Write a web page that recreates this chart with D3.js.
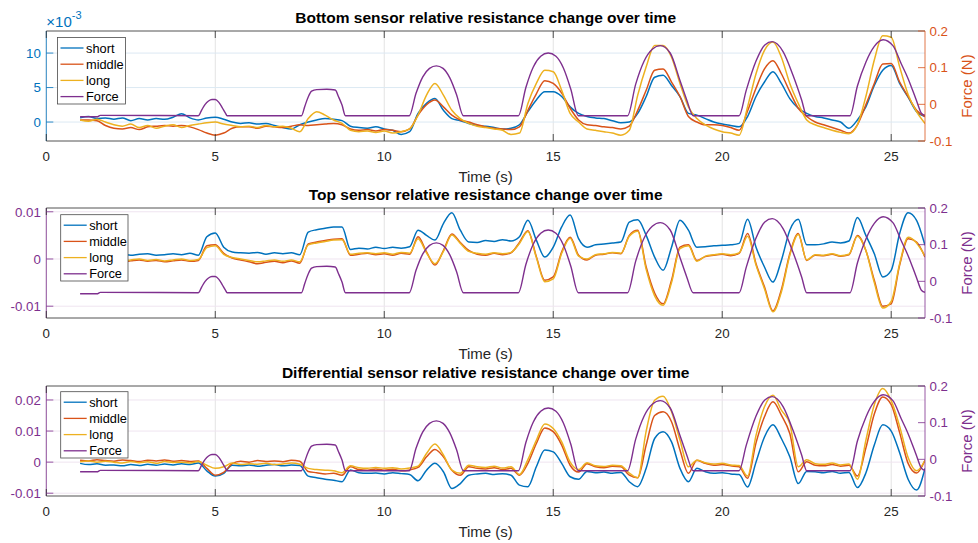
<!DOCTYPE html>
<html><head><meta charset="utf-8">
<script src="https://cdn.jsdelivr.net/npm/d3@7"></script>
<style>
body{margin:0;background:#fff}
svg{display:block}
text{font-family:"Liberation Sans",Arial,Helvetica,sans-serif}
</style>
</head><body>
<svg id="c" width="978" height="543"></svg>
<script>
// ---------------- DATA ----------------
// Sensor series sampled every 0.25 s from t = 1.0 s to t = 26.0 s (101 samples).
// Values in units of 1e-3 (relative resistance change).
const sampleStart = 1.0;
const sampleStep = 0.25;

const seriesNames = ["short", "middle", "long", "Force"];
const titles = [
  "Bottom sensor relative resistance change over time",
  "Top sensor relative resistance change over time",
  "Differential sensor relative resistance change over time"
];
const xTickValues = [0, 5, 10, 15, 20, 25];
const forceTickValues = [-0.1, 0, 0.1, 0.2];
const bottomTickValues = [0, 5, 10];          // x 1e-3
const topTickValues = [-10, 0, 10];           // x 1e-3
const diffTickValues = [-10, 0, 10, 20];      // x 1e-3

const bottomShort = [
0.6,0.8,0.5,0.6, 0.4,0.6,0.2,0.5, 0.3,0.5,0.4,0.7, 1.2,0.6,0.3,0.6,
0.7,0.4,0.0,-0.2, -0.1,-0.3,-0.2,-0.5, -0.8,-1.0,-0.4,0.0, 0.3,0.5,0.4,0.2,
-0.6,-0.8,-0.9,-0.7, -1.0,-1.2,-1.8,-1.4, 1.25,2.7,3.4,1.7, 0.5,0.2,-0.2,-0.5,
-0.6,-0.8,-1.0,-0.9, -0.4,1.5,3.2,4.4, 4.4,3.7,2.2,1.25, 0.8,0.6,0.5,0.2,
-0.1,0.0,1.25,3.7, 6.5,6.8,5.3,3.7, 1.25,1.0,0.5,0.0, -0.3,-0.5,-0.7,0.8,
3.7,5.8,7.3,5.6, 3.4,2.0,1.25,0.8, 0.6,0.3,0.0,-0.9, 0.3,2.2,5.3,7.5,
8.2,5.6,3.6,1.5, 0.8];
const bottomMiddle = [
0.3,0.3,0.2,-0.5, -0.9,-1.0,-0.8,-1.1, -0.7,-0.6,-0.5,-0.6, -0.5,-0.7,-1.1,-1.6,
-1.9,-1.6,-0.9,-0.7, -0.7,-0.9,-0.6,-0.7, -0.8,-0.6,-0.4,-0.5, -0.4,-0.3,-0.2,-0.4,
-1.0,-1.2,-1.1,-1.3, -1.1,-1.2,-1.4,-1.0, 1.0,2.5,3.2,2.2, 1.0,0.3,0.0,-0.4,
-0.7,-0.9,-1.0,-1.1, -0.7,1.7,4.1,6.0, 5.6,4.2,2.0,0.3, -0.4,-0.5,-0.7,-0.8,
-1.0,-0.6,1.7,4.6, 7.5,7.7,5.8,3.7, 0.8,0.0,-0.4,-0.4, -0.5,-0.8,-1.2,1.6,
4.9,7.7,8.9,7.0, 4.4,2.0,0.8,0.0, -0.4,-0.8,-1.2,-1.6, -0.4,2.5,5.6,8.4,
8.5,5.8,3.7,1.7, 0.8];
const bottomLong = [
0.3,0.1,0.4,0.0, -0.4,-0.6,-0.3,-0.8, -0.5,-0.9,-0.6,-0.4, -0.8,-0.5,-0.3,-0.1,
0.0,-0.3,-0.5,-0.7, -0.6,-0.8,-0.5,-0.7, -0.6,-0.9,-1.4,0.5, 1.5,1.0,0.3,-0.2,
-1.2,-1.4,-1.3,-1.5, -1.3,-1.6,-1.4,-1.0, 1.0,3.9,5.6,3.9, 1.7,0.5,-0.2,-0.6,
-0.8,-1.0,-1.2,-1.8, -1.6,2.7,5.6,7.5, 7.3,4.6,1.25,0.0, -1.0,-1.2,-1.4,-1.6,
-1.9,-1.2,3.9,8.0, 11.1,11.1,9.4,5.6, 2.2,0.5,-0.4,-1.0, -1.4,-1.6,-1.9,2.2,
7.0,10.4,11.6,9.4, 5.6,2.7,0.3,-0.4, -0.8,-1.2,-1.5,-1.7, -0.4,3.7,9.0,12.5,
12.3,8.0,4.0,1.5, -0.2];

const topShort = [
0.6,0.8,0.5,0.9, 0.7,1.0,0.8,1.0, 1.1,0.8,0.9,1.1, 0.9,1.2,0.8,4.7,
5.5,2.5,1.5,1.3, 1.2,1.4,1.0,1.3, 1.1,1.3,0.9,5.7, 6.2,6.5,6.8,6.8,
2.0,2.3,2.1,2.5, 2.2,2.5,2.3,2.6, 6.1,5.0,4.0,7.5, 9.8,6.1,3.6,3.5,
3.9,3.7,4.1,3.8, 4.7,8.2,4.0,0.4, 2.5,6.8,9.3,4.3, 2.5,3.0,3.2,3.4,
3.6,7.8,8.3,5.0, 0.4,-2.4,2.5,8.2, 6.1,2.5,2.6,2.8, 2.9,3.0,3.3,8.4,
2.5,-1.7,-4.9,-0.3, 6.1,8.4,3.0,3.0, 3.2,3.6,3.4,3.8, 8.8,5.0,1.1,-3.8,
-2.4,5.4,9.8,8.2, 2.9];
const topMiddle = [
-0.2,-0.4,-0.1,-0.5, -0.3,-0.6,-0.4,-0.2, -0.5,-0.3,-0.6,-0.4, -0.2,-0.5,-0.3,2.8,
3.0,1.2,0.2,-0.2, -0.6,-1.0,-0.7,-0.5, -0.8,-0.4,-0.9,3.2, 3.6,3.9,4.2,4.3,
0.8,1.0,1.2,0.9, 1.1,0.8,1.2,1.0, 4.7,1.5,-1.3,1.8, 5.3,3.5,1.8,1.0,
0.8,1.2,0.9,1.3, 3.5,6.0,0.5,-4.5, -3.8,1.5,4.6,0.8, -0.2,0.8,1.0,1.3,
1.1,5.0,6.1,-1.7, -7.2,-9.5,-4.5,2.5, 3.0,-0.3,0.5,0.8, 1.0,0.7,1.2,5.4,
-1.0,-5.9,-11.0,-6.5, 1.1,5.4,-0.3,0.8, 0.7,1.0,0.6,0.9, 5.0,1.8,-4.5,-10.0,
-9.5,-1.3,4.3,3.6, 0.4];
const topLong = [
0.0,-0.2,0.1,-0.3, -0.1,-0.4,-0.2,0.0, -0.3,-0.1,-0.4,-0.2, 0.0,-0.3,-0.1,2.4,
2.8,1.0,0.3,0.0, -0.3,-0.6,-0.4,-0.2, -0.5,-0.2,-0.6,3.0, 3.4,3.7,4.0,4.1,
1.0,1.2,1.3,1.1, 1.3,1.0,1.4,1.2, 4.3,1.3,-1.0,1.6, 5.1,3.3,1.6,1.2,
1.0,1.3,1.1,1.4, 3.3,5.8,0.3,-4.8, -4.2,1.2,4.4,0.6, 0.0,0.9,1.1,1.4,
1.2,4.8,5.9,-2.2, -7.8,-9.8,-5.0,2.2, 2.8,-0.5,0.6,0.9, 1.1,0.9,1.3,4.8,
-1.3,-6.3,-11.2,-7.0, 0.8,5.2,-0.2,0.9, 0.8,1.1,0.7,1.0, 4.8,1.8,-5.0,-10.4,
-9.0,-1.0,4.6,3.4, 0.6];

const diffShort = [
-0.4,-0.8,-0.5,-1.0, -0.9,-1.2,-0.8,-1.1, -0.7,-1.0,-0.6,-0.9, -0.5,-0.8,-0.3,-2.8,
-4.5,-3.6,-1.0,-1.2, -0.9,-1.3,-1.0,-0.8, -1.2,-0.9,-1.1,-4.5, -5.0,-5.5,-5.8,-6.3,
-2.5,-3.4,-3.6,-3.5, -3.8,-3.4,-3.7,-4.0, -6.0,-2.6,-0.4,-3.1, -8.5,-6.9,-4.2,-3.8,
-3.6,-4.0,-3.7,-4.2, -7.4,-7.9,-1.5,3.9, 3.3,-0.4,-4.7,-5.5, -3.0,-3.4,-3.2,-3.6,
-3.3,-6.3,-7.9,-2.0, 7.6,9.8,6.5,-2.0, -6.3,-2.0,-3.1,-3.6, -3.4,-3.8,-4.0,-8.0,
0.0,8.1,12.0,7.6, 1.7,-6.9,-3.0,-3.1, -3.4,-3.0,-3.6,-3.3, -8.2,-3.5,5.5,12.0,
10.0,3.0,-5.5,-9.0, -2.0];
const diffMiddle = [
0.6,0.4,0.8,0.5, 0.3,0.7,0.5,0.2, 0.6,0.4,0.7,0.3, 0.5,0.2,0.4,-2.0,
-4.2,-3.3,-0.5,0.3, 0.0,0.5,0.2,0.4, 0.1,0.6,0.3,-3.0, -3.4,-3.8,-3.6,-4.2,
-1.5,-2.4,-2.6,-2.2, -2.6,-2.3,-2.8,-2.5, -1.7,1.7,4.1,1.7, -2.6,-4.2,-1.5,-2.0,
-2.2,-1.8,-2.4,-2.0, -4.2,-0.4,6.0,11.0, 9.8,5.5,-1.0,-3.2, -0.5,-1.5,-1.8,-1.3,
-1.5,-4.2,-5.0,5.5, 15.0,16.2,13.0,3.9, -3.6,0.6,-0.4,-1.0, -0.8,-1.2,-1.5,-5.2,
6.2,14.6,19.4,15.1, 9.2,-3.1,0.1,-1.0, -1.2,-0.8,-1.3,-1.0, -4.5,4.5,15.5,21.0,
18.5,9.5,-0.4,-3.5, 0.6];
const diffLong = [
0.1,0.4,0.0,0.3, 0.0,-0.3,0.2,-0.2, 0.1,-0.4,0.2,-0.1, 0.0,-0.3,0.2,-1.0,
-2.0,-1.5,-0.3,-0.8, -0.5,-0.7,-0.4,-0.8, -0.6,-0.3,-0.7,-2.0, -2.4,-2.6,-2.8,-3.4,
-1.2,-1.8,-2.0,-1.7, -2.0,-1.8,-2.2,-1.9, -1.3,2.8,5.8,2.3, -2.6,-3.6,-1.0,-1.5,
-1.7,-1.3,-1.9,-1.5, -4.0,0.8,7.0,12.3, 10.8,6.5,0.0,-2.4, -0.2,-1.2,-1.4,-1.0,
-1.2,-3.5,-5.0,10.0, 19.9,21.2,16.2,7.1, -1.5,0.6,-0.2,-0.6, -0.4,-0.9,-1.1,-4.5,
8.6,17.8,21.5,16.7, 12.4,-1.5,0.8,-0.5, -0.7,-0.3,-0.9,-0.6, -5.5,7.0,18.5,23.7,
19.8,11.5,1.5,-2.8, 0.6];

// Force (N), read at its own break points (s)
const forceTime = [1.0,1.5,1.6, 4.5,4.6,4.7,4.8,4.9,5.0,5.1,5.2,5.3,5.35,
  7.55,7.65,7.75,7.85,8.0,8.3,8.55,8.65,8.75,8.85,
  10.74,10.94,11.14,11.34,11.54,11.74,11.94,12.14,12.34,
  13.97,14.19,14.41,14.63,14.85,15.08,15.30,15.52,15.74,
  17.2,17.44,17.69,17.93,18.17,18.46,18.75,18.95,19.14,
  20.5,20.71,21.0,21.26,21.48,21.8,22.1,22.35,22.5,
  23.78,24.0,24.25,24.5,24.76,25.05,25.3,25.5,25.75,25.9,26.0];
const forceValue = [-0.034,-0.034,-0.030, -0.031,-0.015,0.000,0.009,0.013,0.013,0.006,-0.008,-0.024,-0.031,
  -0.031,-0.005,0.020,0.036,0.040,0.041,0.039,0.020,-0.002,-0.031,
  -0.031,0.030,0.075,0.098,0.105,0.098,0.072,0.026,-0.031,
  -0.031,0.046,0.102,0.131,0.140,0.131,0.099,0.041,-0.031,
  -0.031,0.055,0.118,0.150,0.160,0.140,0.065,0.012,-0.031,
  -0.031,0.038,0.118,0.162,0.171,0.144,0.078,0.012,-0.031,
  -0.031,0.050,0.115,0.158,0.176,0.160,0.110,0.070,0.010,-0.025,-0.030];

// ---------------- DRAWING ----------------
const seriesColors = ["#0072BD", "#D95319", "#EDB120", "#7E2F8E"];
const axisInk = "#262626";
const svg = d3.select("#c");
const x = d3.scaleLinear().domain([0, 26]).range([46.3, 925]);

const panels = [
  {title: titles[0], top: 31, bottom: 141, yDomain: [-2.75, 13.2], yTicks: bottomTickValues,
   fmt: d => String(d), leftColor: "#0072BD", rightColor: "#D95319", hGrid: "#dce9f3",
   series: [bottomShort, bottomMiddle, bottomLong], legend: [57.5, 37.5, 68, 66.5], exponent: true},
  {title: titles[1], top: 208, bottom: 318, yDomain: [-12.5, 10.8], yTicks: topTickValues,
   fmt: d => String(d / 1000), leftColor: "#7E2F8E", rightColor: "#7E2F8E", hGrid: "#efe4f0",
   series: [topShort, topMiddle, topLong], legend: [60.7, 214.7, 67.3, 66.3]},
  {title: titles[2], top: 386, bottom: 496, yDomain: [-10.9, 24.5], yTicks: diffTickValues,
   fmt: d => String(d / 1000), leftColor: "#7E2F8E", rightColor: "#7E2F8E", hGrid: "#efe4f0",
   series: [diffShort, diffMiddle, diffLong], legend: [60.7, 391.7, 67.3, 66.3]}
];

const x0 = x.range()[0], x1 = x.range()[1];
const tickLen = 7;

panels.forEach((p, pi) => {
  const g = svg.append("g");
  const yL = d3.scaleLinear().domain(p.yDomain).range([p.bottom, p.top]);
  const yR = d3.scaleLinear().domain([-0.1, 0.2]).range([p.bottom, p.top]);

  // grid
  g.append("g").selectAll("line").data(xTickValues).join("line")
    .attr("x1", d => x(d)).attr("x2", d => x(d))
    .attr("y1", p.top).attr("y2", p.bottom)
    .attr("stroke", "#e3e3e3").attr("stroke-width", 1);
  g.append("g").selectAll("line").data(p.yTicks).join("line")
    .attr("x1", x0).attr("x2", x1)
    .attr("y1", d => yL(d)).attr("y2", d => yL(d))
    .attr("stroke", p.hGrid).attr("stroke-width", 1);

  // clip
  const clipId = "clip" + pi;
  svg.append("clipPath").attr("id", clipId).append("rect")
    .attr("x", x0).attr("y", p.top).attr("width", x1 - x0).attr("height", p.bottom - p.top);
  const plot = g.append("g").attr("clip-path", `url(#${clipId})`);

  const line = d3.line().curve(d3.curveMonotoneX).x(d => x(d[0])).y(d => yL(d[1]));
  p.series.forEach((arr, si) => {
    const pts = arr.map((v, i) => [sampleStart + i * sampleStep, v]);
    plot.append("path").attr("d", line(pts)).attr("fill", "none")
      .attr("stroke", seriesColors[si]).attr("stroke-width", 1.5)
      .attr("stroke-linejoin", "round");
  });
  const fline = d3.line().curve(d3.curveMonotoneX).x(d => x(d[0])).y(d => yR(d[1]));
  plot.append("path").attr("d", fline(forceTime.map((t, i) => [t, forceValue[i]])))
    .attr("fill", "none").attr("stroke", seriesColors[3]).attr("stroke-width", 1.4)
    .attr("stroke-linejoin", "round");

  // axes frame
  g.append("line").attr("x1", x0).attr("x2", x1).attr("y1", p.top).attr("y2", p.top)
    .attr("stroke", axisInk).attr("stroke-width", 0.8);
  g.append("line").attr("x1", x0).attr("x2", x1).attr("y1", p.bottom).attr("y2", p.bottom)
    .attr("stroke", axisInk).attr("stroke-width", 0.8);
  g.append("line").attr("x1", x0).attr("x2", x0).attr("y1", p.top).attr("y2", p.bottom)
    .attr("stroke", p.leftColor).attr("stroke-width", 0.8);
  g.append("line").attr("x1", x1).attr("x2", x1).attr("y1", p.top).attr("y2", p.bottom)
    .attr("stroke", p.rightColor).attr("stroke-width", 0.8);

  // x ticks (inward, bottom and top)
  xTickValues.forEach(v => {
    g.append("line").attr("x1", x(v)).attr("x2", x(v)).attr("y1", p.bottom).attr("y2", p.bottom - tickLen)
      .attr("stroke", axisInk).attr("stroke-width", 0.8);
    g.append("line").attr("x1", x(v)).attr("x2", x(v)).attr("y1", p.top).attr("y2", p.top + tickLen)
      .attr("stroke", axisInk).attr("stroke-width", 0.8);
  });
  g.append("g").selectAll("text").data(xTickValues).join("text")
    .attr("x", d => x(d)).attr("y", p.bottom + 19.5)
    .attr("text-anchor", "middle").attr("font-size", 13.3).attr("fill", axisInk)
    .text(d => d);
  g.append("text").attr("x", (x0 + x1) / 2).attr("y", p.bottom + 40.5)
    .attr("text-anchor", "middle").attr("font-size", 15).attr("fill", axisInk).text("Time (s)");

  // left axis ticks
  p.yTicks.forEach(v => {
    g.append("line").attr("x1", x0).attr("x2", x0 + tickLen).attr("y1", yL(v)).attr("y2", yL(v))
      .attr("stroke", p.leftColor).attr("stroke-width", 0.8);
  });
  g.append("g").selectAll("text").data(p.yTicks).join("text")
    .attr("x", x0 - 5.5).attr("y", d => yL(d)).attr("dy", "0.36em")
    .attr("text-anchor", "end").attr("font-size", 13.3).attr("fill", p.leftColor)
    .text(p.fmt);

  // right axis ticks
  forceTickValues.forEach(v => {
    g.append("line").attr("x1", x1).attr("x2", x1 - tickLen).attr("y1", yR(v)).attr("y2", yR(v))
      .attr("stroke", p.rightColor).attr("stroke-width", 0.8);
  });
  g.append("g").selectAll("text").data(forceTickValues).join("text")
    .attr("x", x1 + 4.5).attr("y", d => yR(d)).attr("dy", "0.36em")
    .attr("text-anchor", "start").attr("font-size", 13.3).attr("fill", p.rightColor)
    .text(d => String(d));
  g.append("text").attr("transform", `translate(972,${(p.top + p.bottom) / 2}) rotate(-90)`)
    .attr("text-anchor", "middle").attr("font-size", 15).attr("fill", p.rightColor).text("Force (N)");

  // title
  g.append("text").attr("x", (x0 + x1) / 2).attr("y", p.top - 7.6)
    .attr("text-anchor", "middle").attr("font-size", 15.5).attr("font-weight", "bold")
    .attr("fill", "#000").text(p.title);

  // exponent
  if (p.exponent) {
    const t = g.append("text").attr("x", x0).attr("y", 26.5).attr("font-size", 15).attr("fill", p.leftColor);
    t.append("tspan").text("\u00d710");
    t.append("tspan").attr("font-size", 11).attr("dy", -7.5).text("-3");
  }

  // legend
  const [lx, ly, lw, lh] = p.legend;
  const lg = g.append("g");
  lg.append("rect").attr("x", lx).attr("y", ly).attr("width", lw).attr("height", lh)
    .attr("fill", "#fff").attr("stroke", "#4a4a4a").attr("stroke-width", 0.8);
  seriesNames.forEach((nm, i) => {
    const yy = ly + 10.5 + i * 16.2;
    lg.append("line").attr("x1", lx + 3).attr("x2", lx + 26).attr("y1", yy).attr("y2", yy)
      .attr("stroke", seriesColors[i]).attr("stroke-width", 1.3);
    lg.append("text").attr("x", lx + 28.5).attr("y", yy).attr("dy", "0.36em")
      .attr("font-size", 12.8).attr("fill", "#000").text(nm);
  });
});
</script>
</body></html>
